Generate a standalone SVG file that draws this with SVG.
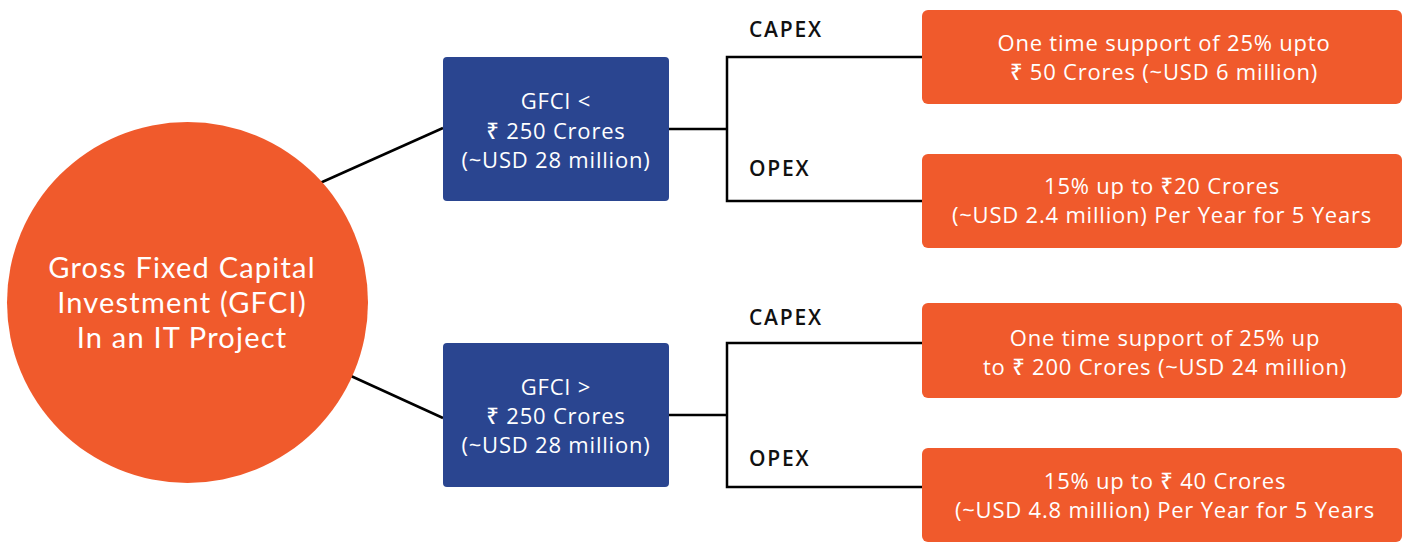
<svg xmlns="http://www.w3.org/2000/svg" width="1410" height="543" viewBox="0 0 1410 543">
<style>
.t{font-family:"Open Sans","Noto Sans","DejaVu Sans",sans-serif;fill:#fff;text-anchor:middle;font-weight:500}
.w{font-size:22px;letter-spacing:0.8px}
.c{font-family:Lato,"Noto Sans","DejaVu Sans",sans-serif;font-size:29px;letter-spacing:1.2px;font-weight:400}
.lab{font-family:"Open Sans","Noto Sans","DejaVu Sans",sans-serif;font-size:21px;font-weight:600;fill:#111;letter-spacing:1.8px}
.con{fill:none;stroke:#000;stroke-width:2.5}
.or{fill:#F05A2C}
.bl{fill:#2A4590}
</style>
<rect width="1410" height="543" fill="#fff"/>
<g id="connectors">
<line class="con" x1="320" y1="183" x2="443" y2="128"/>
<line class="con" x1="351" y1="376" x2="443" y2="418"/>
<polyline class="con" points="669,129 727,129"/>
<polyline class="con" points="922,57 727,57 727,201 922,201"/>
<polyline class="con" points="669,415 727,415"/>
<polyline class="con" points="922,343 727,343 727,487 922,487"/>
</g>
<g id="root">
<circle class="or" cx="187.5" cy="302.5" r="180.5"/>
<text class="t c" x="182" y="278">Gross Fixed Capital</text>
<text class="t c" x="182" y="313">Investment (GFCI)</text>
<text class="t c" x="182" y="348">In an IT Project</text>
</g>
<g id="gfci-low">
<rect class="bl" x="443" y="57" width="226" height="144" rx="4"/>
<text class="t w" x="556" y="109">GFCI &lt;</text>
<text class="t w" x="556" y="139">₹ 250 Crores</text>
<text class="t w" x="556" y="168">(~USD 28 million)</text>
</g>
<g id="gfci-high">
<rect class="bl" x="443" y="343" width="226" height="144" rx="4"/>
<text class="t w" x="556" y="395">GFCI &gt;</text>
<text class="t w" x="556" y="424">₹ 250 Crores</text>
<text class="t w" x="556" y="453">(~USD 28 million)</text>
</g>
<g id="labels">
<text class="lab" x="749" y="37">CAPEX</text>
<text class="lab" x="749" y="176">OPEX</text>
<text class="lab" x="749" y="325">CAPEX</text>
<text class="lab" x="749" y="466">OPEX</text>
</g>
<g id="capex-low">
<rect class="or" x="922" y="10" width="480" height="94" rx="6"/>
<text class="t w" x="1164" y="51">One time support of 25% upto</text>
<text class="t w" x="1164" y="80">₹ 50 Crores (~USD 6 million)</text>
</g>
<g id="opex-low">
<rect class="or" x="922" y="154" width="480" height="94" rx="6"/>
<text class="t w" x="1162" y="194">15% up to ₹20 Crores</text>
<text class="t w" x="1162" y="223">(~USD 2.4 million) Per Year for 5 Years</text>
</g>
<g id="capex-high">
<rect class="or" x="922" y="303" width="480" height="95" rx="6"/>
<text class="t w" x="1165" y="346">One time support of 25% up</text>
<text class="t w" x="1165" y="375">to ₹ 200 Crores (~USD 24 million)</text>
</g>
<g id="opex-high">
<rect class="or" x="922" y="448" width="480" height="94" rx="6"/>
<text class="t w" x="1165" y="489">15% up to ₹ 40 Crores</text>
<text class="t w" x="1165" y="518">(~USD 4.8 million) Per Year for 5 Years</text>
</g>
</svg>
